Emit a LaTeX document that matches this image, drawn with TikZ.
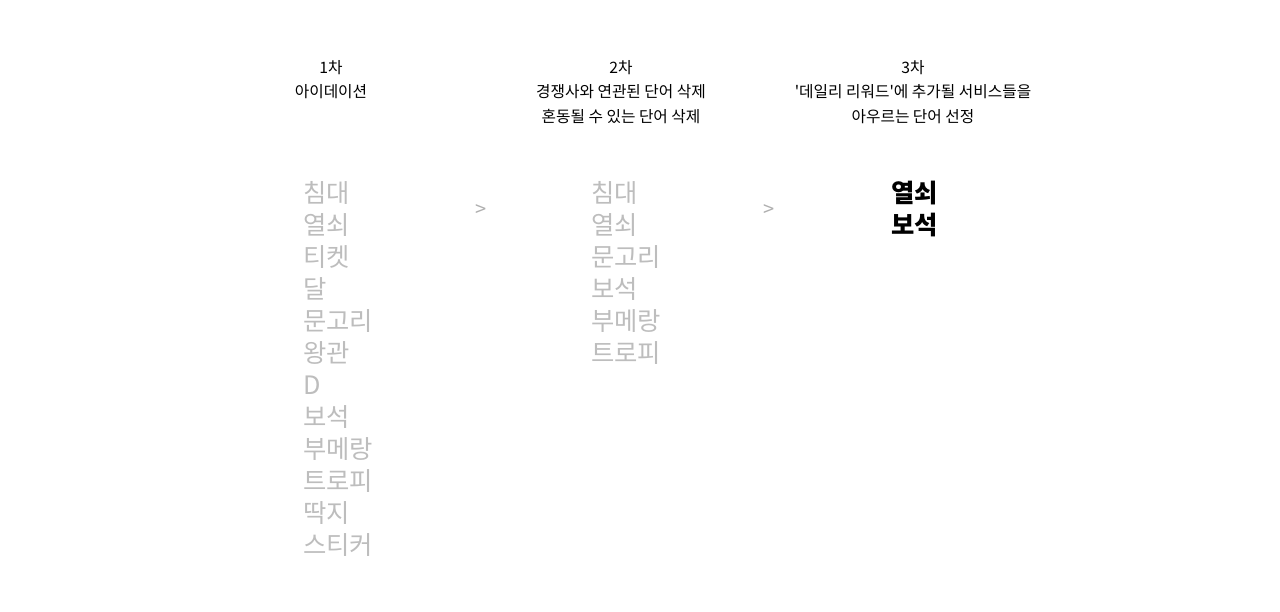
\documentclass[tikz,border=0pt]{standalone}
\usepackage{fontspec}
\setmainfont{Noto Sans CJK KR}
\usetikzlibrary{positioning}
\definecolor{wordgray}{RGB}{189,189,189}
\definecolor{arrowgray}{RGB}{175,175,175}

\begin{document}
\begin{tikzpicture}[x=0.75pt,y=-0.75pt]
  \tikzstyle{titre}=[inner sep=0, align=center, anchor=north, font=\fontsize{11.8}{18.4}\selectfont];
  \tikzstyle{mot}=[inner sep=0, anchor=base west, text=wordgray, font=\fontsize{19}{24}\selectfont];
  \tikzstyle{choisi}=[mot, text=black, font=\fontsize{19}{24}\selectfont\bfseries];
  \tikzstyle{fleche}=[inner sep=0, text=arrowgray, font=\fontsize{15}{15}\selectfont];

  \useasboundingbox (0,0) rectangle (1280,611);

  % titres des trois etapes
  \node[titre] (t1) at (331,60) {1차\\아이데이션};
  \node[titre] (t2) at (621,60) {2차\\경쟁사와 연관된 단어 삭제\\혼동될 수 있는 단어 삭제};
  \node[titre] (t3) at (913,60) {3차\\\textquotesingle 데일리 리워드\textquotesingle 에 추가될 서비스들을\\아우르는 단어 선정};

  % listes de mots
  \foreach \m [count=\i] in {침대,열쇠,티켓,달,문고리,왕관,D,보석,부메랑,트로피,딱지,스티커}
    \node[mot] (a\i) at (303,{202+32*(\i-1)}) {\m};
  \foreach \m [count=\i] in {침대,열쇠,문고리,보석,부메랑,트로피}
    \node[mot] (b\i) at (591,{202+32*(\i-1)}) {\m};
  \foreach \m [count=\i] in {열쇠,보석}
    \node[choisi] (c\i) at (891,{202+32*(\i-1)}) {\m};

  \node[fleche] (f1) at (481,211) {>};
  \node[fleche] (f2) at (769,211) {>};
\end{tikzpicture}
\end{document}
